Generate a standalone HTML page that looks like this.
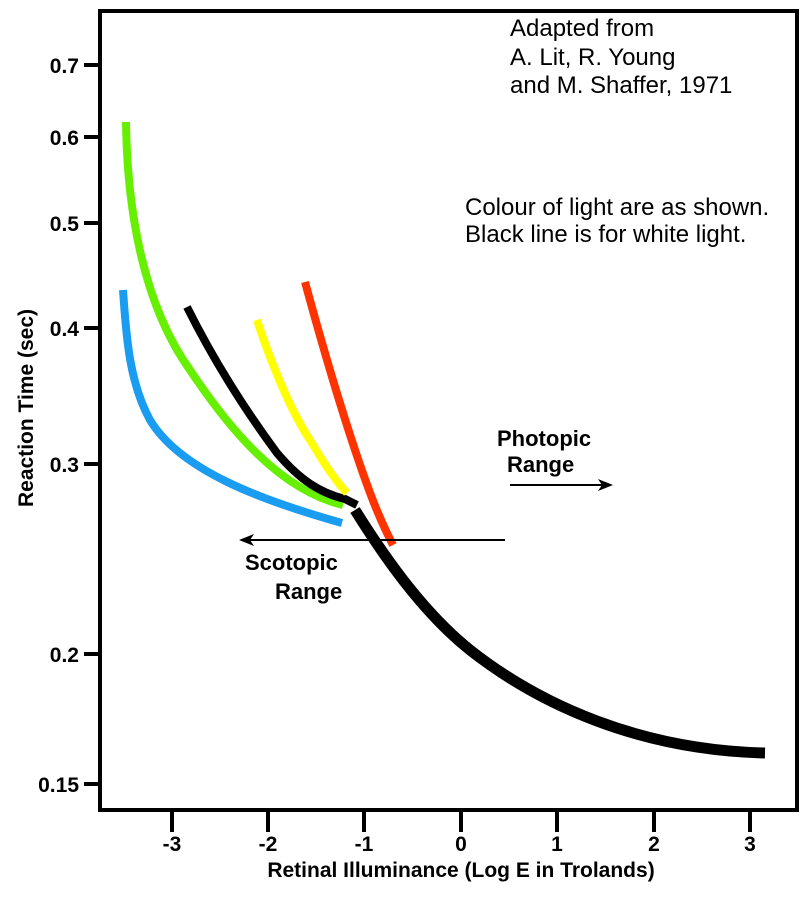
<!DOCTYPE html>
<html><head><style>html,body{margin:0;padding:0;background:#fff;}</style></head>
<body>
<svg width="800" height="900" xmlns="http://www.w3.org/2000/svg" font-family="Liberation Sans, Arial, sans-serif">
<rect x="100" y="11" width="697" height="799" fill="none" stroke="#000" stroke-width="4"/>
<g stroke="#000" stroke-width="4">
<line x1="84" y1="65" x2="100" y2="65"/><line x1="84" y1="137" x2="100" y2="137"/>
<line x1="84" y1="223" x2="100" y2="223"/><line x1="84" y1="328" x2="100" y2="328"/>
<line x1="84" y1="464" x2="100" y2="464"/><line x1="84" y1="654" x2="100" y2="654"/>
<line x1="84" y1="784" x2="100" y2="784"/>
<line x1="172" y1="810" x2="172" y2="832"/><line x1="268" y1="810" x2="268" y2="832"/>
<line x1="364" y1="810" x2="364" y2="832"/><line x1="461" y1="810" x2="461" y2="832"/>
<line x1="557" y1="810" x2="557" y2="832"/><line x1="654" y1="810" x2="654" y2="832"/>
<line x1="750" y1="810" x2="750" y2="832"/>
</g>
<g font-size="21" font-weight="bold" text-anchor="end">
<text x="79" y="73">0.7</text><text x="79" y="145">0.6</text><text x="79" y="231">0.5</text>
<text x="79" y="336">0.4</text><text x="79" y="472">0.3</text><text x="79" y="662">0.2</text>
<text x="79" y="792">0.15</text>
</g>
<g font-size="21" font-weight="bold" text-anchor="middle">
<text x="172" y="851">-3</text><text x="268" y="851">-2</text><text x="364" y="851">-1</text>
<text x="461" y="851">0</text><text x="557" y="851">1</text><text x="654" y="851">2</text>
<text x="750" y="851">3</text>
<text x="461" y="877">Retinal Illuminance (Log E in Trolands)</text>
<text transform="translate(33,408) rotate(-90)">Reaction Time (sec)</text>
</g>
<g fill="none" stroke-linecap="butt" stroke-linejoin="round">
<path d="M123,290 C126,330 128,380 150,420 C180,470 260,500 342,523" stroke="#1a9cf0" stroke-width="8"/>
<path d="M126,122 C127,200 140,300 190,370 C230,430 280,490 343,505" stroke="#66f000" stroke-width="8"/>
<path d="M187,307 C210,353 240,403 277,453 C300,480 320,493 345,499 L357,505" stroke="#000" stroke-width="8"/>
<path d="M257,320 C270,360 290,410 310,440 C325,465 335,480 347,493" stroke="#ffff00" stroke-width="8"/>
<path d="M305,282 C320,337 335,390 355,450 C370,495 380,520 393,545" stroke="#ff3300" stroke-width="8"/>
<path d="M355,510 C380,550 420,610 470,650 C540,705 640,750 765,753" stroke="#000" stroke-width="11"/>
</g>
<line x1="505" y1="540" x2="250" y2="540" stroke="#000" stroke-width="2"/>
<polygon points="239,540 254,534 250,540 254,546" fill="#000"/>
<line x1="510" y1="485" x2="602" y2="485" stroke="#000" stroke-width="2"/>
<polygon points="613,485 598,479 602,485 598,491" fill="#000"/>
<g font-size="22" font-weight="bold">
<text x="497" y="446">Photopic</text><text x="507" y="472">Range</text>
<text x="245" y="570">Scotopic</text><text x="275" y="599">Range</text>
</g>
<g font-size="24">
<text x="510" y="36">Adapted from</text><text x="510" y="65">A. Lit, R. Young</text>
<text x="510" y="93">and M. Shaffer, 1971</text>
<text x="465" y="215">Colour of light are as shown.</text>
<text x="465" y="242">Black line is for white light.</text>
</g>
</svg>
</body></html>
